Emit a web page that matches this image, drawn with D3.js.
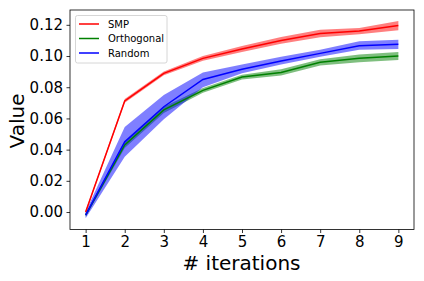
<!DOCTYPE html>
<html><head><meta charset="utf-8">
<script src="https://cdn.jsdelivr.net/npm/d3@7"></script>
<style>body{margin:0;background:#fff}svg{display:block}text{font-family:"DejaVu Sans",sans-serif}</style>
</head><body><svg id="c" width="424" height="281"></svg>
<script>
const iterations = [1,2,3,4,5,6,7,8,9];
const smpMean   = [0.000,0.0712,0.0889,0.0985,0.1045,0.1100,0.1145,0.1160,0.1195];
const smpLow    = [-0.001,0.0700,0.0877,0.0970,0.1025,0.1078,0.1120,0.1140,0.1165];
const smpHigh   = [0.001,0.0724,0.0901,0.1000,0.1065,0.1122,0.1168,0.1180,0.1225];
const orthMean  = [-0.002,0.0430,0.0655,0.0780,0.0865,0.0895,0.0960,0.0985,0.1000];
const orthLow   = [-0.003,0.0410,0.0635,0.0765,0.0850,0.0875,0.0940,0.0960,0.0975];
const orthHigh  = [-0.001,0.0450,0.0675,0.0795,0.0880,0.0915,0.0980,0.1010,0.1025];
const randMean  = [-0.002,0.0450,0.0675,0.0850,0.0915,0.0968,0.1017,0.1066,0.1075];
const randLow   = [-0.004,0.0355,0.0595,0.0800,0.0890,0.0945,0.0995,0.1040,0.1045];
const randHigh  = [0.000,0.0545,0.0750,0.0895,0.0945,0.0995,0.1040,0.1095,0.1105];
const yTicks = [0.00,0.02,0.04,0.06,0.08,0.10,0.12];
const seriesNames = ["SMP","Orthogonal","Random"];
const seriesColors = ["#ff0000","#008000","#0000ff"];

const svg = d3.select("#c");
const L=70, R=414, T=10, B=229.5;
const x = d3.scaleLinear().domain([0.6,9.4]).range([L,R]);
const y = d3.scaleLinear().domain([-0.0112,0.1295]).range([B,T]);

const series = [
  {mean:smpMean,low:smpLow,high:smpHigh},
  {mean:orthMean,low:orthLow,high:orthHigh},
  {mean:randMean,low:randLow,high:randHigh}
];
const area = d3.area().x(d=>x(d.i)).y0(d=>y(d.lo)).y1(d=>y(d.hi));
const line = d3.line().x(d=>x(d.i)).y(d=>y(d.m));
series.forEach((s,k)=>{
  const pts = iterations.map((it,j)=>({i:it,m:s.mean[j],lo:s.low[j],hi:s.high[j]}));
  svg.append("path").attr("d",area(pts)).attr("fill",seriesColors[k]).attr("fill-opacity",0.5);
});
series.forEach((s,k)=>{
  const pts = iterations.map((it,j)=>({i:it,m:s.mean[j]}));
  svg.append("path").attr("d",line(pts)).attr("fill","none").attr("stroke",seriesColors[k]).attr("stroke-width",1.5);
});

svg.append("rect").attr("x",L).attr("y",T).attr("width",R-L).attr("height",B-T)
  .attr("fill","none").attr("stroke","#000").attr("stroke-width",0.8);

const xa = svg.append("g").attr("transform",`translate(0,${B})`)
  .call(d3.axisBottom(x).tickValues(iterations).tickFormat(d3.format("d")).tickSize(3.5).tickPadding(3.5));
const ya = svg.append("g").attr("transform",`translate(${L},0)`)
  .call(d3.axisLeft(y).tickValues(yTicks).tickFormat(d3.format(".2f")).tickSize(3.5).tickPadding(3.5));
[xa,ya].forEach(a=>{
  a.select(".domain").remove();
  a.selectAll("line").attr("stroke","#000").attr("stroke-width",0.8);
  a.selectAll("text").attr("font-size",15).attr("fill","#000").attr("font-family","DejaVu Sans");
});

svg.append("text").attr("x",241.5).attr("y",270).attr("text-anchor","middle")
  .attr("font-size",20).text("# iterations");
svg.append("text").attr("transform","translate(23.5,121) rotate(-90)").attr("text-anchor","middle")
  .attr("font-size",20).text("Value");

const lg = svg.append("g");
lg.append("rect").attr("x",75.5).attr("y",15.5).attr("width",91.5).attr("height",47.5).attr("rx",2)
  .attr("fill","#fff").attr("fill-opacity",0.8).attr("stroke","#ccc").attr("stroke-width",0.8);
seriesNames.forEach((n,k)=>{
  const yy = 24 + k*14.5;
  lg.append("line").attr("x1",79).attr("x2",99).attr("y1",yy).attr("y2",yy)
    .attr("stroke",seriesColors[k]).attr("stroke-width",1.5);
  lg.append("text").attr("x",108).attr("y",yy+3.5).attr("font-size",10).text(n);
});
</script></body></html>
